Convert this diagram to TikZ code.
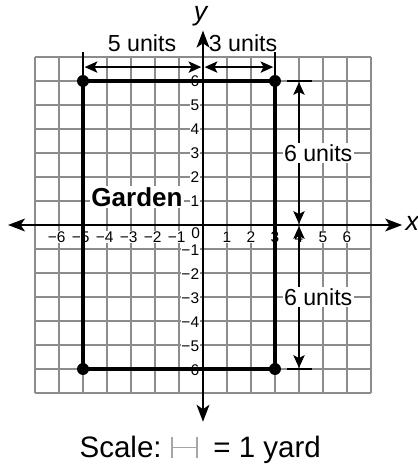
\documentclass[tikz,border=0pt]{standalone}
\usepackage{fontspec}
\setmainfont{Liberation Sans}
\usetikzlibrary{arrows.meta}

\begin{document}
\begin{tikzpicture}[x=0.6cm,y=0.6cm,
  gridline/.style={draw=black!45,line width=1.2pt},
  axis/.style={line width=1.8pt,{Stealth[length=12pt,width=9pt,inset=3pt]}-{Stealth[length=12pt,width=9pt,inset=3pt]}},
  side/.style={line width=2.3pt},
  extline/.style={line width=1.5pt},
  dot/.style={circle,fill=black,inner sep=0pt,minimum size=8.5pt},
  dim/.style={line width=1.3pt,{Stealth[length=9pt,width=8pt,inset=2pt]}-{Stealth[length=9pt,width=8pt,inset=2pt]}},
  tick/.style={fill=white,inner sep=0.5pt,font=\fontsize{11}{11}\selectfont},
  units/.style={fill=white,inner sep=1pt,font=\fontsize{16.5}{16.5}\selectfont},
  scaletext/.style={inner sep=0pt,font=\fontsize{21}{21}\selectfont}]
  \useasboundingbox (-8.458,-9.958) rectangle (8.958,9.375);

  \foreach \k in {-7,...,7} {
    \draw[gridline] (\k,-7) -- (\k,7);
    \draw[gridline] (-7,\k) -- (7,\k);
  }

  \foreach \i in {1,...,6} {
    \node[tick] (xn\i) at (-\i-0.1,-0.5) {−\i};
    \node[tick] (xp\i) at (\i,-0.5) {\i};
    \node[tick,anchor=east] (yp\i) at (-0.12,\i) {\i};
    \node[tick,anchor=east] (yn\i) at (-0.12,-\i-0.05) {−\i};
  }
  \node[tick] (zero) at (-0.3,-0.33) {0};

  \coordinate (xl) at (-8.125,0);
  \coordinate (xr) at (8.3,0);
  \coordinate (yt) at (0,8.1);
  \coordinate (yb) at (0,-8.2);
  \draw[axis] (xl) -- (xr);
  \draw[axis] (yb) -- (yt);
  \node[font=\fontsize{19}{19}\selectfont\itshape] (xlab) at (8.72,0.05) {x};
  \node[font=\fontsize{19}{19}\selectfont\itshape] (ylab) at (-0.1,8.7) {y};

  \node[units,font=\fontsize{18.5}{18.5}\selectfont\bfseries] (garden) at (-2.75,1.17) {Garden};

  \coordinate (A) at (-5,6);
  \coordinate (B) at (3,6);
  \coordinate (C) at (3,-6);
  \coordinate (D) at (-5,-6);
  \draw[side] (A) -- (B) -- (C) -- (D) -- cycle;
  \node[dot] (dA) at (A) {};
  \node[dot] (dB) at (B) {};
  \node[dot] (dC) at (C) {};
  \node[dot] (dD) at (D) {};

  \coordinate (Aup) at (-5,7.2);
  \coordinate (Bup) at (3,7.2);
  \draw[extline] (A) -- (Aup);
  \draw[extline] (B) -- (Bup);
  \coordinate (h1) at (-5,6.58);
  \coordinate (h2) at (0,6.58);
  \coordinate (h3) at (3,6.58);
  \draw[dim,shorten <=1.2pt,shorten >=1.2pt] (h1) -- (h2);
  \draw[dim,shorten <=1.2pt,shorten >=1.2pt] (h2) -- (h3);
  \node[units,fill=none] (five) at (-2.54,7.58) {5 units};
  \node[units,fill=none] (three) at (1.67,7.58) {3 units};

  \coordinate (r6a) at (3.5,6);
  \coordinate (r6b) at (4.55,6);
  \coordinate (r0a) at (3.5,0);
  \coordinate (r0b) at (4.55,0);
  \coordinate (rma) at (3.5,-6);
  \coordinate (rmb) at (4.55,-6);
  \draw[extline] (r6a) -- (r6b);
  \draw[extline] (r0a) -- (r0b);
  \draw[extline] (rma) -- (rmb);
  \coordinate (v6) at (4,6);
  \coordinate (v0) at (4,0);
  \coordinate (vm) at (4,-6);
  \draw[dim,shorten <=0.8pt,shorten >=0.8pt] (v6) -- (v0);
  \draw[dim,shorten <=0.8pt,shorten >=0.8pt] (v0) -- (vm);
  \node[units] (upper) at (4.8,3) {6 units};
  \node[units] (lower) at (4.8,-3) {6 units};

  \node[scaletext,anchor=base east] (scale) at (-1.71,-9.67) {Scale:};
  \coordinate (s1) at (-1.29,-8.83);
  \coordinate (s2) at (-1.29,-9.7);
  \coordinate (s3) at (-0.25,-8.83);
  \coordinate (s4) at (-0.25,-9.7);
  \coordinate (s5) at (-1.29,-9.27);
  \coordinate (s6) at (-0.25,-9.27);
  \draw[draw=black!35,line width=0.9pt] (s1) -- (s2) (s3) -- (s4) (s5) -- (s6);
  \node[scaletext,anchor=base west] (yard) at (0.42,-9.67) {= 1 yard};
\end{tikzpicture}
\end{document}
